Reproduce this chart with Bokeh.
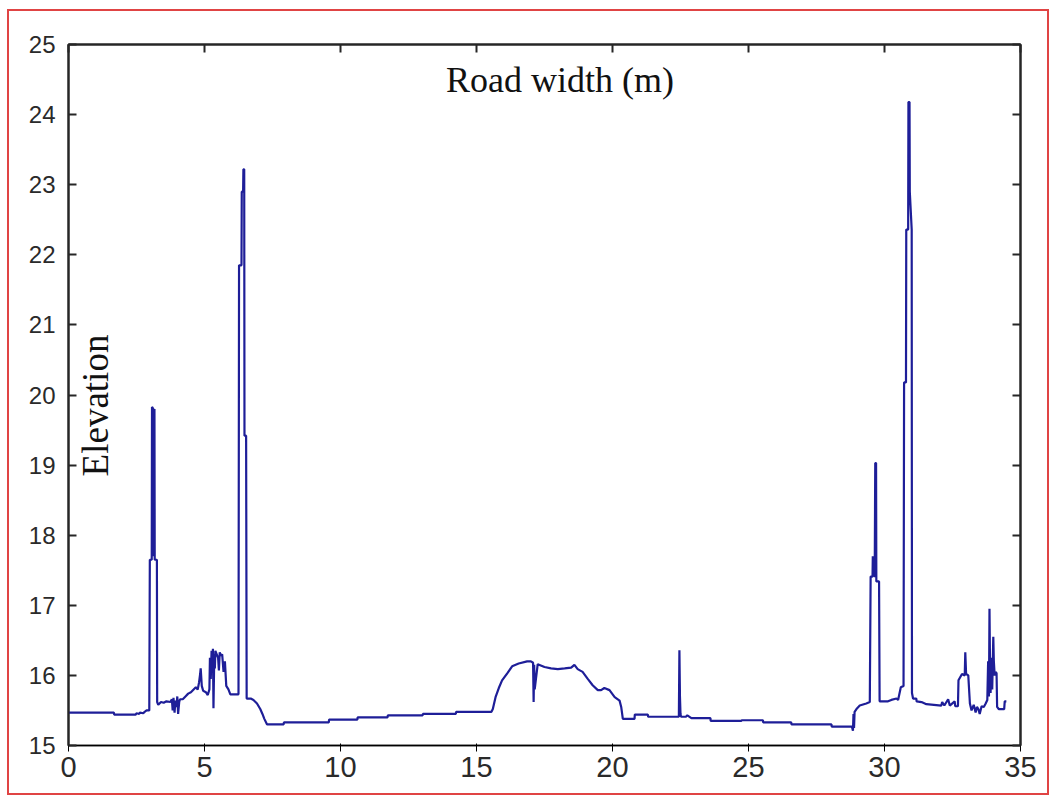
import math
from bokeh.plotting import figure
from bokeh.models import (Range1d, FixedTicker, LinearAxis, Label,
                          CustomJSTickFormatter, InlineStyleSheet)
from bokeh.embed import file_html
from bokeh.resources import INLINE

# ---- data ----
distance = [
    0.00, 1.67, 1.68, 2.47, 2.50, 2.60, 2.62, 2.75, 2.80, 2.87, 2.97,
    2.99, 3.06, 3.07, 3.12, 3.13, 3.16, 3.17, 3.19, 3.25, 3.26,
    3.30, 3.40, 3.50, 3.60, 3.75, 3.80, 3.83, 3.86, 3.90, 3.93, 3.97, 4.00, 4.03, 4.07, 4.10,
    4.20, 4.30, 4.40, 4.50, 4.60, 4.68, 4.75, 4.80, 4.84, 4.86, 4.90, 4.95, 5.05, 5.12, 5.18,
    5.20, 5.23, 5.26, 5.29, 5.31, 5.33, 5.36, 5.38, 5.40, 5.45, 5.50, 5.53, 5.56, 5.60, 5.65,
    5.70, 5.75, 5.80, 5.88, 5.95,
    6.25, 6.27, 6.36, 6.37, 6.42, 6.43, 6.46, 6.47, 6.53, 6.55,
    6.70, 6.80, 6.93, 7.05, 7.13, 7.20, 7.30,
    7.91, 7.92, 9.57, 9.58, 10.62, 10.63, 11.73, 11.74, 13.02, 13.03, 14.24, 14.25, 15.55,
    15.60, 15.70, 15.82, 15.94, 16.13, 16.31, 16.55, 16.86, 17.00, 17.08, 17.10, 17.12, 17.14,
    17.25, 17.50, 17.74, 17.99, 18.24, 18.48, 18.60, 18.72, 18.90, 19.09, 19.27, 19.46, 19.58,
    19.70, 19.89, 20.08, 20.26, 20.32, 20.38,
    20.81, 20.82, 21.30, 21.31, 22.44, 22.46, 22.48, 22.50, 22.52, 22.70, 22.75, 22.90, 23.60,
    23.61, 24.74, 24.75, 25.53, 25.54, 26.57, 26.58, 28.05, 28.06, 28.80,
    28.84, 28.86, 28.88, 28.90, 28.97, 29.09, 29.33, 29.46,
    29.49, 29.56, 29.57, 29.64, 29.66, 29.69, 29.70, 29.80, 29.82,
    30.13, 30.25, 30.44, 30.50, 30.60, 30.70,
    30.72, 30.79, 30.80, 30.87, 30.88, 30.92, 30.93, 31.00, 31.01, 31.05,
    31.17, 31.18, 31.36, 31.54, 32.09, 32.12, 32.20, 32.34, 32.40, 32.58, 32.60, 32.70,
    32.72, 32.85, 32.95, 32.97, 33.00, 33.08, 33.14,
    33.20, 33.28, 33.35, 33.40, 33.45, 33.50, 33.57, 33.65, 33.72, 33.78,
    33.81, 33.84, 33.86, 33.88, 33.90, 33.93, 33.96, 34.00, 34.02, 34.05, 34.08, 34.12, 34.14,
    34.20, 34.40, 34.42, 34.48,
]
elevation = [
    15.47, 15.47, 15.44, 15.44, 15.46, 15.45, 15.47, 15.46, 15.48, 15.50, 15.50,
    17.65, 17.65, 19.83, 19.80, 17.70, 19.80, 17.65, 17.65, 17.65, 15.62,
    15.58, 15.62, 15.61, 15.63, 15.62, 15.66, 15.50, 15.68, 15.47, 15.64, 15.55, 15.70, 15.45, 15.62, 15.66,
    15.66, 15.70, 15.74, 15.76, 15.80, 15.83, 15.80, 15.90, 16.02, 16.10, 15.85, 15.78, 15.76, 15.72, 15.80,
    16.25, 15.95, 16.35, 16.05, 16.38, 15.53, 16.30, 16.10, 16.35, 16.30, 16.25, 16.07, 16.33, 16.28, 16.30,
    16.05, 16.20, 15.85, 15.80, 15.73,
    15.73, 21.85, 21.85, 22.90, 22.90, 23.22, 23.22, 19.42, 19.42, 15.67,
    15.67, 15.65, 15.60, 15.52, 15.45, 15.38, 15.30,
    15.30, 15.33, 15.33, 15.37, 15.37, 15.40, 15.40, 15.43, 15.43, 15.45, 15.45, 15.48, 15.48,
    15.52, 15.69, 15.82, 15.93, 16.03, 16.13, 16.17, 16.20, 16.20, 16.18, 15.62, 16.15, 15.80,
    16.16, 16.12, 16.10, 16.09, 16.10, 16.11, 16.15, 16.09, 16.05, 15.95, 15.86, 15.79, 15.79,
    15.82, 15.79, 15.69, 15.64, 15.55, 15.38,
    15.38, 15.44, 15.44, 15.41, 15.41, 16.36, 15.70, 15.45, 15.41, 15.41, 15.43, 15.39, 15.39,
    15.35, 15.35, 15.36, 15.36, 15.33, 15.33, 15.30, 15.30, 15.27, 15.27,
    15.21, 15.45, 15.25, 15.48, 15.52, 15.57, 15.60, 15.62,
    17.41, 17.41, 17.70, 17.40, 19.03, 19.03, 17.34, 17.34, 15.63,
    15.63, 15.65, 15.67, 15.65, 15.83, 15.85,
    20.18, 20.18, 22.36, 22.36, 24.18, 24.18, 22.90, 22.36, 15.75, 15.67,
    15.67, 15.63, 15.62, 15.59, 15.57, 15.62, 15.57, 15.66, 15.57, 15.63, 15.56, 15.56,
    15.93, 16.02, 16.00, 16.33, 16.02, 16.00, 15.60,
    15.50, 15.58, 15.47, 15.55, 15.52, 15.45, 15.56, 15.55, 15.60, 15.65,
    16.20, 15.70, 16.95, 16.15, 15.75, 16.25, 15.80, 16.55, 16.20, 16.00, 16.05, 16.03, 15.55,
    15.52, 15.52, 15.63, 15.63,
]
x_ticks = [0, 5, 10, 15, 20, 25, 30, 35]
y_ticks = [15, 16, 17, 18, 19, 20, 21, 22, 23, 24, 25]
title_text = "Road width (m)"
ylabel_text = "Elevation"

AXIS_COLOR = "#262626"

frame_css = InlineStyleSheet(css="""
:host { position: relative; }
:host::after {
  content: "";
  position: absolute;
  left: 7px; top: 9px;
  width: 1038px; height: 782px;
  border: 2px solid #e04444;
  box-sizing: content-box;
  z-index: 100;
  pointer-events: none;
}
""")

p = figure(width=1052, height=801, output_backend="svg", toolbar_location=None,
           x_range=Range1d(0, 35), y_range=Range1d(15, 25),
           min_border_left=68, min_border_right=32, min_border_top=44, min_border_bottom=56,
           background_fill_color="white", border_fill_color="white",
           stylesheets=[frame_css])
p.xgrid.visible = False
p.ygrid.visible = False
p.outline_line_color = AXIS_COLOR
p.outline_line_width = 2

p.line(distance, elevation, line_color="#1e1e98", line_width=2.2)

xt = FixedTicker(ticks=x_ticks)
yt = FixedTicker(ticks=y_ticks)

for ax in p.xaxis:
    ax.ticker = xt
    ax.major_label_text_font = "Liberation Sans"
    ax.major_label_text_font_size = "29px"
    ax.major_label_text_color = "#2a2a2a"
    ax.major_label_standoff = 5
for ax in p.yaxis:
    ax.ticker = yt
    ax.major_label_text_font = "Liberation Sans"
    ax.major_label_text_font_size = "24px"
    ax.major_label_text_color = "#2a2a2a"
    ax.major_label_standoff = 13

blank = CustomJSTickFormatter(code="return ''")
top_ax = LinearAxis(ticker=xt, formatter=blank)
right_ax = LinearAxis(ticker=yt, formatter=blank)
p.add_layout(top_ax, "above")
p.add_layout(right_ax, "right")

for ax in [p.xaxis[0], p.yaxis[0], top_ax, right_ax]:
    ax.axis_line_color = AXIS_COLOR
    ax.axis_line_width = 2
    ax.major_tick_line_color = AXIS_COLOR
    ax.major_tick_line_width = 2
    ax.major_tick_in = 8
    ax.major_tick_out = 0
    ax.minor_tick_line_color = None

p.add_layout(Label(x=18.07, y=24.49, text=title_text, text_align="center",
                   text_baseline="middle", text_font="Liberation Serif",
                   text_font_size="36px", text_color="#111111"))
p.add_layout(Label(x=0.99, y=19.85, text=ylabel_text, angle=math.pi / 2,
                   text_align="center", text_baseline="middle",
                   text_font="Liberation Serif", text_font_size="37px",
                   text_color="#111111"))

open("out.html", "w").write(file_html(p, INLINE))
